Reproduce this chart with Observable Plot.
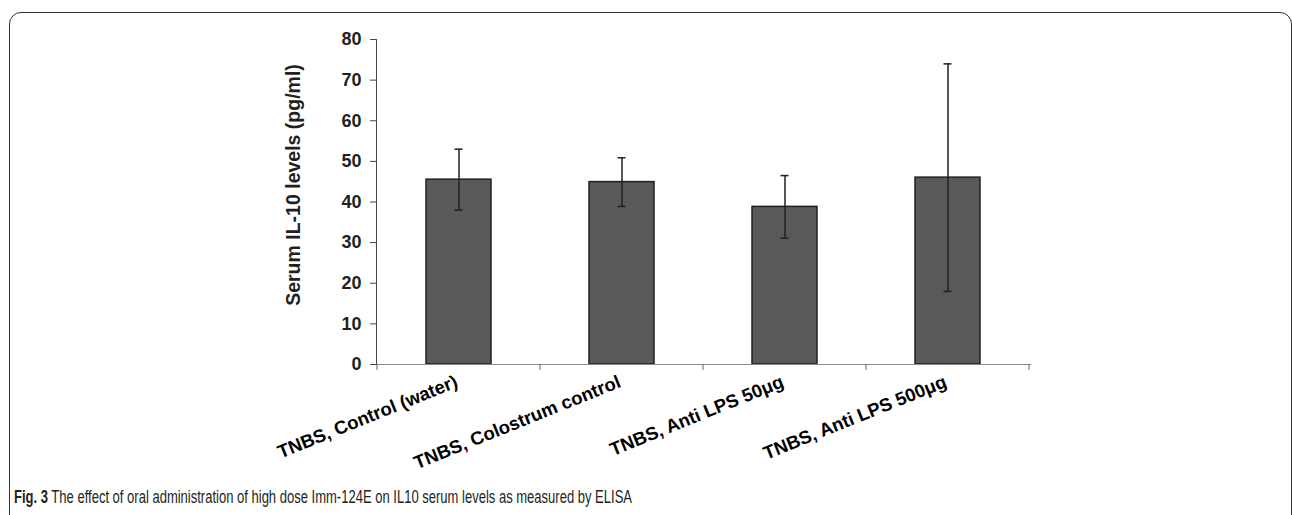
<!DOCTYPE html>
<html><head><meta charset="utf-8">
<script src="https://cdn.jsdelivr.net/npm/d3@7"></script>
<script src="https://cdn.jsdelivr.net/npm/@observablehq/plot@0.6"></script>
<style>
body{margin:0;background:#fff;}
#wrap{position:relative;width:1292px;height:515px;overflow:hidden;background:#fff;}
#frame{position:absolute;left:9px;top:12px;width:1283px;height:600px;box-sizing:border-box;border:1.5px solid #333;border-radius:12px;}
#chart{position:absolute;left:0;top:0;}
#caption{position:absolute;left:14px;top:487px;font-family:"Liberation Sans",Arial,sans-serif;font-size:17.5px;color:#231f20;white-space:nowrap;transform-origin:0 0;}
</style></head>
<body>
<div id="wrap">
  <div id="frame"></div>
  <div id="chart"></div>
  <div id="caption"><b>Fig. 3</b> The effect of oral administration of high dose Imm-124E on IL10 serum levels as measured by ELISA</div>
</div>
<script>
const categories = ["TNBS, Control (water)", "TNBS, Colostrum control", "TNBS, Anti LPS 50μg", "TNBS, Anti LPS 500μg"];
const means = [45.5, 44.9, 38.8, 46.0];
const errors = [7.5, 6.0, 7.7, 28.0];
const yTicks = [0, 10, 20, 30, 40, 50, 60, 70, 80];
const yLabel = "Serum IL-10 levels (pg/ml)";

const data = categories.map((c, i) => ({cat: c, mean: means[i], lo: means[i] - errors[i], hi: means[i] + errors[i]}));

function boundaryTicks(index, scales) {
  const x = scales.x, y = scales.y;
  const bw = x.bandwidth();
  const step = x.step ? x.step() : bw / 0.4;
  const half = (step - bw) / 2;
  const bounds = categories.map(c => x(c) - half).concat([x(categories[categories.length - 1]) + bw + half]);
  const g = d3.create("svg:g");
  g.selectAll("line").data(bounds).join("line")
    .attr("x1", d => d).attr("x2", d => d)
    .attr("y1", y(0)).attr("y2", y(0) + 6)
    .attr("stroke", "#666").attr("stroke-width", 1);
  return g.node();
}

const chart = Plot.plot({
  width: 1292, height: 480,
  marginLeft: 376, marginRight: 261, marginTop: 39, marginBottom: 116,
  style: {fontFamily: "'Liberation Sans', Arial, sans-serif", background: "transparent", color: "#231f20"},
  x: {domain: categories, paddingInner: 0.6, paddingOuter: 0.3, axis: null},
  y: {domain: [0, 80]},
  marks: [
    Plot.barY(data, {x: "cat", y: "mean", fill: "#58595b", stroke: "#231f20", strokeWidth: 1.5}),
    Plot.ruleY([0], {stroke: "#8a8a8a", strokeWidth: 1.2}),
    Plot.frame({anchor: "left", stroke: "#444", strokeWidth: 1}),
    Plot.axisY({ticks: yTicks, tickSize: 6, tickPadding: 9, fontSize: 18, fontWeight: "bold", label: null, stroke: "#444"}),
    Plot.ruleX(data, {x: "cat", y1: "lo", y2: "hi", stroke: "#231f20", strokeWidth: 1.5}),
    Plot.tickY(data, {x: "cat", y: "hi", stroke: "#231f20", strokeWidth: 1.5, insetLeft: 28.5, insetRight: 28.5}),
    Plot.tickY(data, {x: "cat", y: "lo", stroke: "#231f20", strokeWidth: 1.5, insetLeft: 28.5, insetRight: 28.5}),
    boundaryTicks,
    Plot.text(categories, {x: d => d, frameAnchor: "bottom", textAnchor: "end", rotate: -22, dy: 22, fontSize: 18.5, fontWeight: "bold", fill: "#000"}),
    Plot.text([yLabel], {frameAnchor: "left", textAnchor: "middle", rotate: -90, dx: -83, dy: -17, fontSize: 19.5, fontWeight: "bold", fill: "#231f20"})
  ]
});
document.getElementById("chart").appendChild(chart);

const cap = document.getElementById("caption");
const w = cap.getBoundingClientRect().width;
cap.style.transform = `scaleX(${618 / w})`;
</script>
</body></html>
